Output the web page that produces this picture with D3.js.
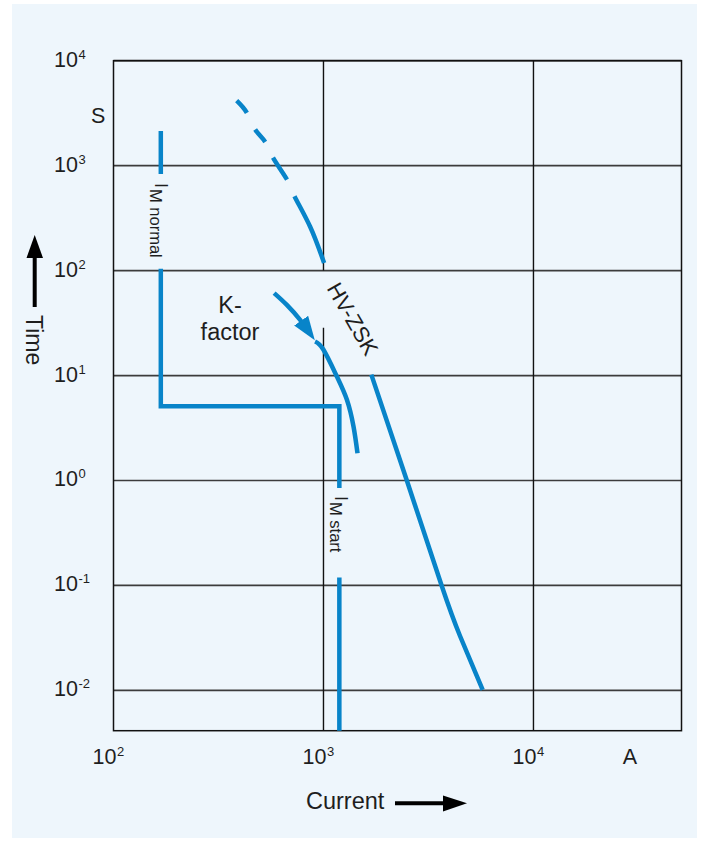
<!DOCTYPE html>
<meta charset="utf-8">
<style>
    body { margin: 0; background: #fff; }
    text { font-family: "Liberation Sans", Arial, sans-serif; fill: #1e1e1e; }
    .grid-h { stroke: #3c3c3c; stroke-width: 1.7px; }
    .grid-v { stroke: #111; stroke-width: 1.4px; }
    .frame { fill: none; stroke: #111; stroke-width: 1.5px; }
    .curve { fill: none; stroke: #0884c9; stroke-width: 4.5px; }
</style>
<body>
<script src="https://d3js.org/d3.v7.min.js"></script>
<script>

// axis ticks
const xTicks = [1e2, 1e3, 1e4];
const yTicks = [1e4, 1e3, 1e2, 1e1, 1e0, 1e-1, 1e-2];

// motor current characteristic (A, s), split where the labels sit
const imNormalTop = [[168, 2140], [168, 834]];
const imNormalMain = [[168, 104], [168, 5.1], [1190, 5.1], [1190, 0.85]];
const imStartLow = [[1190, 0.119], [1190, 0.003]];

// HV-ZSK fuse curve, upper part (dashed start) and lower part
const hvzskUpper = [[386, 4160], [431, 3200], [472, 2220], [527, 1690], [574, 1200],
    [669, 742], [727, 514], [864, 262], [1007, 118]];
const hvzskLower = [[1690, 10.2], [2490, 1.01], [3656, 0.0995], [4470, 0.033], [5730, 0.0101]];

// K-factor arrow and shifted curve
const kArrow = [[582, 61], [669, 47.1], [774, 33.9], [865, 25]];
const kCurve = [[912, 21.1], [1000, 17.6], [1158, 9.8], [1293, 5.87], [1390, 3.27], [1452, 1.82]];

const width = 703, height = 841;
const plotLeft = 113.5, plotRight = 681.5, plotTop = 60.7, plotBottom = 730.7;

const x = d3.scaleLog().domain([100, Math.pow(10, 4.705)]).range([plotLeft, plotRight]);
const y = d3.scaleLog().domain([Math.pow(10, -2.384), 1e4]).range([plotBottom, plotTop]);

const svg = d3.select("body").append("svg")
    .attr("width", width)
    .attr("height", height);

// light blue panel
svg.append("rect")
    .attr("x", 12).attr("y", 4)
    .attr("width", 685).attr("height", 834)
    .attr("fill", "#eef6fc");

const defs = svg.append("defs");
defs.append("clipPath").attr("id", "plot")
    .append("rect")
    .attr("x", plotLeft).attr("y", plotTop)
    .attr("width", plotRight - plotLeft).attr("height", plotBottom - plotTop);

const marker = defs.append("marker")
    .attr("id", "head")
    .attr("markerUnits", "userSpaceOnUse")
    .attr("viewBox", "0 -9 24 18")
    .attr("markerWidth", 24).attr("markerHeight", 18)
    .attr("refX", 16).attr("refY", 0)
    .attr("orient", "auto");
marker.append("path").attr("d", "M0,-8.5L24,0L0,8.5Z").attr("fill", "#0884c9");

// grid
svg.selectAll(".grid-h")
    .data(yTicks)
    .enter().append("line")
    .attr("class", "grid-h")
    .attr("x1", plotLeft).attr("x2", plotRight)
    .attr("y1", d => y(d)).attr("y2", d => y(d));

// the 10^3 line is broken behind the HV-ZSK label
const vSegments = [[1e3, 1e4, 100], [1e3, 28.5, 0.001], [1e4, 1e4, 0.001]];
svg.selectAll(".grid-v")
    .data(vSegments)
    .enter().append("line")
    .attr("class", "grid-v")
    .attr("x1", d => x(d[0])).attr("x2", d => x(d[0]))
    .attr("y1", d => Math.max(plotTop, y(d[1])))
    .attr("y2", d => Math.min(plotBottom, y(d[2])));

svg.append("rect")
    .attr("class", "frame")
    .attr("x", plotLeft).attr("y", plotTop)
    .attr("width", plotRight - plotLeft).attr("height", plotBottom - plotTop);

// curves
const straight = d3.line().x(d => x(d[0])).y(d => y(d[1]));
const smooth = d3.line().x(d => x(d[0])).y(d => y(d[1])).curve(d3.curveNatural);

const g = svg.append("g").attr("clip-path", "url(#plot)");

[imNormalTop, imNormalMain, imStartLow].forEach(seg => {
    g.append("path").attr("class", "curve").attr("d", straight(seg));
});

g.append("path").attr("class", "curve")
    .attr("d", smooth(hvzskUpper))
    .attr("stroke-dasharray", "16 18.5 16 17.5 26 18.3 2000");
g.append("path").attr("class", "curve").attr("d", smooth(hvzskLower));
g.append("path").attr("class", "curve").attr("d", smooth(kCurve));
g.append("path").attr("class", "curve")
    .attr("d", smooth(kArrow))
    .attr("marker-end", "url(#head)");

// tick labels
function powerLabel(sel, v) {
    sel.append("tspan").text("10");
    sel.append("tspan")
        .attr("font-size", 13)
        .attr("dy", -8)
        .attr("dx", 0.5)
        .text(Math.round(Math.log10(v)));
}

svg.selectAll(".ytick")
    .data(yTicks)
    .enter().append("text")
    .attr("class", "ytick")
    .attr("x", 54)
    .attr("y", d => y(d) + 6)
    .attr("font-size", 21.5)
    .each(function(d) { powerLabel(d3.select(this), d); });

svg.selectAll(".xtick")
    .data(xTicks)
    .enter().append("text")
    .attr("class", "xtick")
    .attr("x", d => x(d) - 21)
    .attr("y", 764)
    .attr("font-size", 21.5)
    .each(function(d) { powerLabel(d3.select(this), d); });

// units
svg.append("text").attr("x", 91).attr("y", 122.5).attr("font-size", 21.5).text("S");
svg.append("text").attr("x", 630).attr("y", 764).attr("font-size", 21.5)
    .attr("text-anchor", "middle").text("A");

// axis titles with arrows
svg.append("text")
    .attr("transform", "translate(26,315) rotate(90)")
    .attr("font-size", 23)
    .text("Time");
svg.append("line")
    .attr("x1", 34.7).attr("x2", 34.7).attr("y1", 307).attr("y2", 256)
    .attr("stroke", "#000").attr("stroke-width", 4);
svg.append("path")
    .attr("d", "M26.5,258L43,258L34.7,235Z").attr("fill", "#000");

svg.append("text")
    .attr("x", 306).attr("y", 809)
    .attr("font-size", 23.5)
    .text("Current");
svg.append("line")
    .attr("x1", 395).attr("x2", 445).attr("y1", 803.3).attr("y2", 803.3)
    .attr("stroke", "#000").attr("stroke-width", 4);
svg.append("path")
    .attr("d", "M443,795.5L443,811.5L467,803.3Z").attr("fill", "#000");

// current labels along the characteristic
function currentLabel(px, py, sub) {
    const t = svg.append("text")
        .attr("transform", `translate(${px},${py}) rotate(90)`);
    t.append("tspan").attr("font-size", 18).text("I");
    t.append("tspan").attr("font-size", 16.5).attr("dy", 5).attr("dx", 1).text(sub);
}
currentLabel(x(168) - 6, 183, "M normal");
currentLabel(x(1190) - 4, 496, "M start");

// HV-ZSK label sits in the gap of the fuse curve
const p1 = [x(hvzskUpper[hvzskUpper.length - 1][0]), y(hvzskUpper[hvzskUpper.length - 1][1])];
const p2 = [x(hvzskLower[0][0]), y(hvzskLower[0][1])];
svg.append("text")
    .attr("transform", `translate(${(p1[0] + p2[0]) / 2 + 5},${(p1[1] + p2[1]) / 2}) rotate(60)`)
    .attr("font-size", 22)
    .attr("text-anchor", "middle")
    .attr("dy", "0.35em")
    .text("HV-ZSK");

// K-factor label
const kl = svg.append("text")
    .attr("font-size", 23.5)
    .attr("text-anchor", "middle");
kl.append("tspan").attr("x", 230).attr("y", 313).text("K-");
kl.append("tspan").attr("x", 230).attr("y", 340).text("factor");

</script>
</body>
</html>
